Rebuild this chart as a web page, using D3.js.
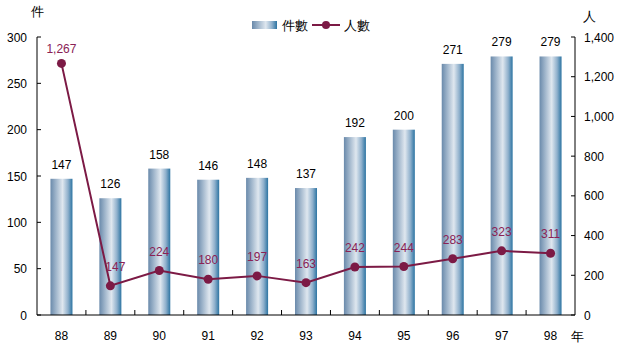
<!DOCTYPE html>
<html><head><meta charset="utf-8">
<script src="https://cdn.jsdelivr.net/npm/d3@7"></script>
<style>body{margin:0;background:#fff}svg{display:block}text{font-family:"Liberation Sans",Arial,sans-serif}</style>
</head><body>
<svg id="c" width="619" height="352"></svg>
<script>
const years = ["88","89","90","91","92","93","94","95","96","97","98"];
const cases = [147,126,158,146,148,137,192,200,271,279,279];
const people = [1267,147,224,180,197,163,242,244,283,323,311];
const leftTicks = [0,50,100,150,200,250,300];
const rightTicks = [0,200,400,600,800,1000,1200,1400];

const svg = d3.select("#c");
const L=37,R=575,T=37,B=315;
const x = d3.scaleBand().domain(years).range([L,R]).paddingInner(0.55).paddingOuter(0.275);
const xb = d3.scaleBand().domain(years).range([L,R]);
const yL = d3.scaleLinear().domain([0,300]).range([B,T]);
const yR = d3.scaleLinear().domain([0,1400]).range([B,T]);

const defs = svg.append("defs");
const g = defs.append("linearGradient").attr("id","bg").attr("x1","0").attr("x2","1").attr("y1","0").attr("y2","0");
[[0,"#6a8aab"],[0.25,"#9fb5cb"],[0.55,"#dfe7ef"],[0.8,"#8fb0cc"],[1,"#2c74a2"]].forEach(([o,c])=>g.append("stop").attr("offset",o).attr("stop-color",c));

// bars
svg.append("g").selectAll("rect").data(cases).join("rect")
  .attr("x",(d,i)=>x(years[i])).attr("width",x.bandwidth())
  .attr("y",d=>yL(d)).attr("height",d=>B-yL(d)).attr("fill","url(#bg)");
svg.append("g").selectAll("text").data(cases).join("text")
  .attr("x",(d,i)=>x(years[i])+x.bandwidth()/2).attr("y",d=>yL(d)-10)
  .attr("text-anchor","middle").attr("font-size",12).attr("fill","#000").text(d=>d);

// axes
const fmt = d3.format(",");
const ax = svg.append("g").attr("font-size",12);
ax.append("line").attr("x1",L).attr("x2",L).attr("y1",T).attr("y2",B).attr("stroke","#000");
ax.append("line").attr("x1",R).attr("x2",R).attr("y1",T).attr("y2",B).attr("stroke","#000");
ax.append("line").attr("x1",L).attr("x2",R).attr("y1",B).attr("y2",B).attr("stroke","#000");
leftTicks.forEach(t=>{
  ax.append("line").attr("x1",L).attr("x2",L+4).attr("y1",yL(t)).attr("y2",yL(t)).attr("stroke","#000");
  ax.append("text").attr("x",L-10).attr("y",yL(t)+4.5).attr("text-anchor","end").text(t);
});
rightTicks.forEach(t=>{
  ax.append("line").attr("x1",R-4).attr("x2",R).attr("y1",yR(t)).attr("y2",yR(t)).attr("stroke","#000");
  ax.append("text").attr("x",R+9).attr("y",yR(t)+4.5).attr("text-anchor","start").text(fmt(t));
});
years.forEach((y,i)=>{
  if(i>0){const xx=xb(y); ax.append("line").attr("x1",xx).attr("x2",xx).attr("y1",B).attr("y2",B-5).attr("stroke","#000");}
  ax.append("text").attr("x",xb(y)+xb.bandwidth()/2).attr("y",340).attr("text-anchor","middle").text(y);
});
ax.append("text").attr("x",37).attr("y",16).attr("text-anchor","middle").attr("font-size",13).text("件");
ax.append("text").attr("x",589).attr("y",21).attr("text-anchor","middle").attr("font-size",13).text("人");
ax.append("text").attr("x",577).attr("y",341).attr("text-anchor","middle").attr("font-size",13).text("年");

// line
const lc="#7c1a45";
const line = d3.line().x((d,i)=>xb(years[i])+xb.bandwidth()/2).y(d=>yR(d));
svg.append("path").datum(people).attr("d",line).attr("fill","none").attr("stroke",lc).attr("stroke-width",2);
svg.append("g").selectAll("circle").data(people).join("circle")
  .attr("cx",(d,i)=>xb(years[i])+xb.bandwidth()/2).attr("cy",d=>yR(d)).attr("r",4.5).attr("fill",lc);
svg.append("g").selectAll("text").data(people).join("text")
  .attr("x",(d,i)=>xb(years[i])+xb.bandwidth()/2+(i===1?5:0)).attr("y",(d,i)=>yR(d)-(i===0?10:15))
  .attr("text-anchor","middle").attr("font-size",12).attr("fill","#8a2255").text(d=>fmt(d));

// legend
const lg = svg.append("g").attr("font-size",13);
lg.append("rect").attr("x",252).attr("y",21).attr("width",25).attr("height",8).attr("fill","url(#bg)");
lg.append("text").attr("x",282).attr("y",30).text("件數");
lg.append("line").attr("x1",312).attr("x2",340).attr("y1",25).attr("y2",25).attr("stroke",lc).attr("stroke-width",2);
lg.append("circle").attr("cx",326).attr("cy",25).attr("r",4).attr("fill",lc);
lg.append("text").attr("x",344).attr("y",30).text("人數");
</script>
</body></html>
